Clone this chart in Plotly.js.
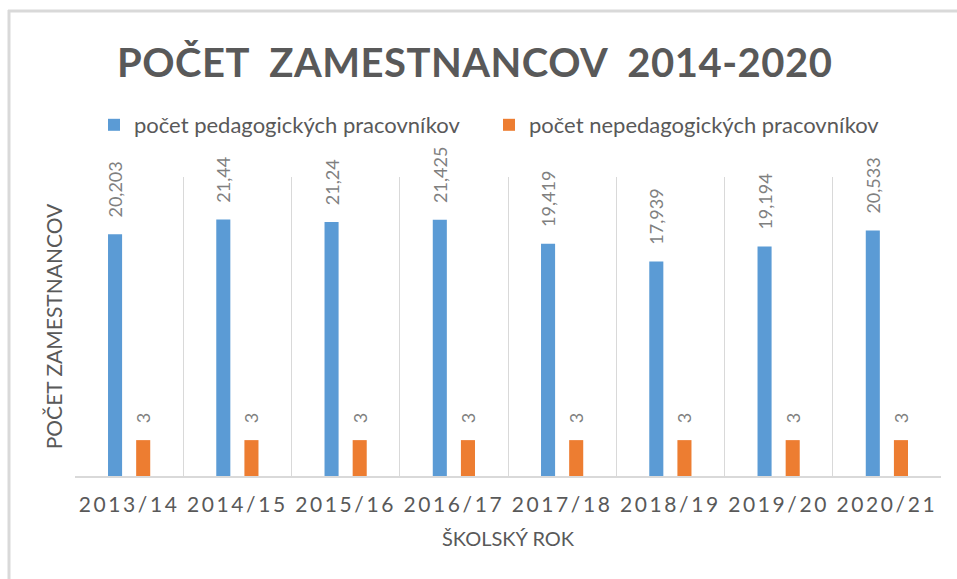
<!DOCTYPE html>
<html>
<head>
<meta charset="utf-8">
<script src="https://cdn.plot.ly/plotly-3.0.1.min.js"></script>
<style>
html,body{margin:0;padding:0;background:#fff;}
#chart{width:957px;height:579px;}
.gtitle{letter-spacing:0.5px;}
.xtick text{letter-spacing:2.6px;}
</style>
</head>
<body>
<div id="chart"></div>
<script>
const categories = ["2013/14","2014/15","2015/16","2016/17","2017/18","2018/19","2019/20","2020/21"];
const pedagogical = [20.203, 21.44, 21.24, 21.425, 19.419, 17.939, 19.194, 20.533];
const pedagogicalLabels = ["20,203","21,44","21,24","21,425","19,419","17,939","19,194","20,533"];
const nonPedagogical = [3, 3, 3, 3, 3, 3, 3, 3];
const nonPedagogicalLabels = ["3","3","3","3","3","3","3","3"];
const seriesNames = ["počet pedagogických pracovníkov", "počet nepedagogických pracovníkov"];

const W = 957, H = 579;
const m = {l: 75, r: 16, t: 177, b: 103};
const pw = W - m.l - m.r, ph = H - m.t - m.b;
const pad = s => "\u00a0\u00a0\u00a0" + s;
const FONT = "Lato, 'Open Sans', sans-serif";
const labelFont = {family: FONT, size: 18, color: "#7f7f7f"};

const traces = [
  {type: "bar", name: seriesNames[0], x: categories, y: pedagogical,
   text: pedagogicalLabels.map(pad), textposition: "outside", textangle: -90, constraintext: "none",
   textfont: labelFont, cliponaxis: false, hoverinfo: "skip",
   marker: {color: "#5b9bd5", line: {width: 0}}},
  {type: "bar", name: seriesNames[1], x: categories, y: nonPedagogical,
   text: nonPedagogicalLabels.map(pad), textposition: "outside", textangle: -90, constraintext: "none",
   textfont: labelFont, cliponaxis: false, hoverinfo: "skip",
   marker: {color: "#ed7d31", line: {width: 0}}}
];

const px2x = p => (p - m.l) / pw;
const px2y = p => 1 - (p - m.t) / ph;

const layout = {
  width: W, height: H,
  margin: m,
  paper_bgcolor: "#ffffff", plot_bgcolor: "#ffffff",
  font: {family: FONT, color: "#595959"},
  barmode: "group", bargap: 0.48, bargroupgap: 0.5,
  showlegend: true,
  title: {text: "POČET  ZAMESTNANCOV  2014-2020", font: {family: FONT, size: 40, color: "#595959", weight: 700},
          x: 0.496, xref: "container", xanchor: "center", y: 1 - 63 / H, yref: "container", yanchor: "middle"},
  legend: {orientation: "h", x: px2x(489), xanchor: "center", y: 1 - 125 / H, yref: "container", yanchor: "middle",
           font: {family: FONT, size: 22, color: "#595959"}, itemwidth: 30, entrywidth: 350, traceorder: "normal"},
  xaxis: {type: "category", tickson: "boundaries", showgrid: true, gridcolor: "#d9d9d9", gridwidth: 1,
          showline: true, linecolor: "#d9d9d9", linewidth: 2, ticks: "", ticklabelstandoff: 9,
          tickfont: {family: FONT, size: 21, color: "#595959"},
          title: {text: "ŠKOLSKÝ ROK", font: {family: FONT, size: 20, color: "#595959"}, standoff: 17},
          fixedrange: true},
  yaxis: {range: [0, 25], showgrid: false, zeroline: false, showticklabels: false, ticks: "", showline: false,
          title: {text: "POČET ZAMESTNANCOV", font: {family: FONT, size: 21, color: "#595959"}, standoff: 5},
          fixedrange: true},
  shapes: [
    {type: "line", xref: "paper", yref: "paper", x0: px2x(9), x1: px2x(9), y0: px2y(10), y1: px2y(H + 5),
     line: {color: "#d9d9d9", width: 3}},
    {type: "line", xref: "paper", yref: "paper", x0: px2x(8), x1: px2x(W + 5), y0: px2y(11), y1: px2y(11),
     line: {color: "#d9d9d9", width: 3}}
  ]
};

Plotly.newPlot("chart", traces, layout, {displayModeBar: false, staticPlot: true});
</script>
</body>
</html>
